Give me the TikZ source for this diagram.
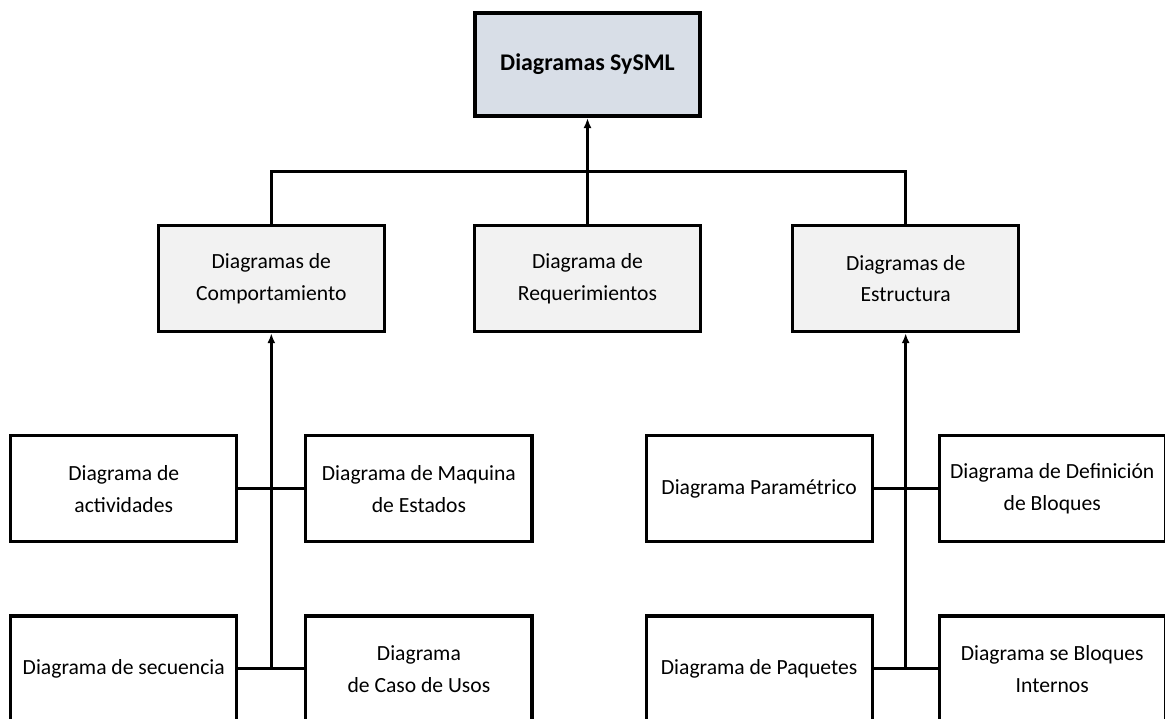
\documentclass[tikz,border=0pt]{standalone}
\usepackage{fontspec}
\setmainfont{Carlito}
\usetikzlibrary{
  arrows.meta,
  positioning,
  calc,
}
\definecolor{topfill}{HTML}{D8DEE7}
\definecolor{groupfill}{HTML}{F2F2F2}
\tikzset{
  >={Latex[width=1.6mm,length=2mm]},
}
\begin{document}
\begin{tikzpicture}[
      node distance = 2.12cm and 1.76cm,
      every node/.style={
        align=center,
        inner sep=0pt,
      },
      box/.style={draw,
        line width=1.8pt,
        minimum width=4.52cm,
        minimum height=2.12cm,
        font=\fontsize{12.3}{18}\selectfont,
      },
      main/.style={box,
        fill=topfill,
        line width=2.3pt,
        minimum width=4.5cm,
        minimum height=2.06cm,
        font=\fontsize{13.6}{18}\selectfont\bfseries,
      },
      group/.style={box,
        fill=groupfill,
      },
      line/.style={line width=1.7pt},
      ]
      \useasboundingbox (-11.75,1.29) rectangle (11.55,-13.09);

      \node[main] (sysml) at (0,0) {Diagramas SySML};
      \node[group, below=of sysml] (req) {Diagrama de \\ Requerimientos};
      \node[group, left=1.74cm of req] (comp) {Diagramas de \\ Comportamiento};
      \node[group, right=1.78cm of req] (estr) {Diagramas de \\ Estructura};

      % comportamiento
      \node[box, below left=2.02cm and 0.66cm of comp.south] (act) {Diagrama de \\ actividades};
      \node[box, below right=2.02cm and 0.66cm of comp.south] (maq) {Diagrama de Maquina \\ de Estados};
      \node[box, below=1.42cm of act] (seq) {Diagrama de secuencia};
      \node[box, below=1.42cm of maq] (caso) {Diagrama \\ de Caso de Usos};

      % estructura
      \node[box, below left=2.02cm and 0.64cm of estr.south] (param) {Diagrama Paramétrico};
      \node[box, below right=2.02cm and 0.64cm of estr.south] (bloq) {Diagrama de Definición \\ de Bloques};
      \node[box, below=1.42cm of param] (paq) {Diagrama de Paquetes};
      \node[box, below=1.42cm of bloq] (intern) {Diagrama se Bloques \\ Internos};

      \coordinate (hub) at ($(sysml.south)!0.5!(req.north)$);
      \draw[line] (comp.north) |- (hub) -| (estr.north);
      \draw[line, ->] (req.north) -- (sysml.south);

      \draw[line, ->] (comp.south |- seq.east) -- (comp.south);
      \draw[line] (act.east) -- (maq.west);
      \draw[line] (seq.east) -- (caso.west);

      \draw[line, ->] (estr.south |- paq.east) -- (estr.south);
      \draw[line] (param.east) -- (bloq.west);
      \draw[line] (paq.east) -- (intern.west);
    \end{tikzpicture}
\end{document}
